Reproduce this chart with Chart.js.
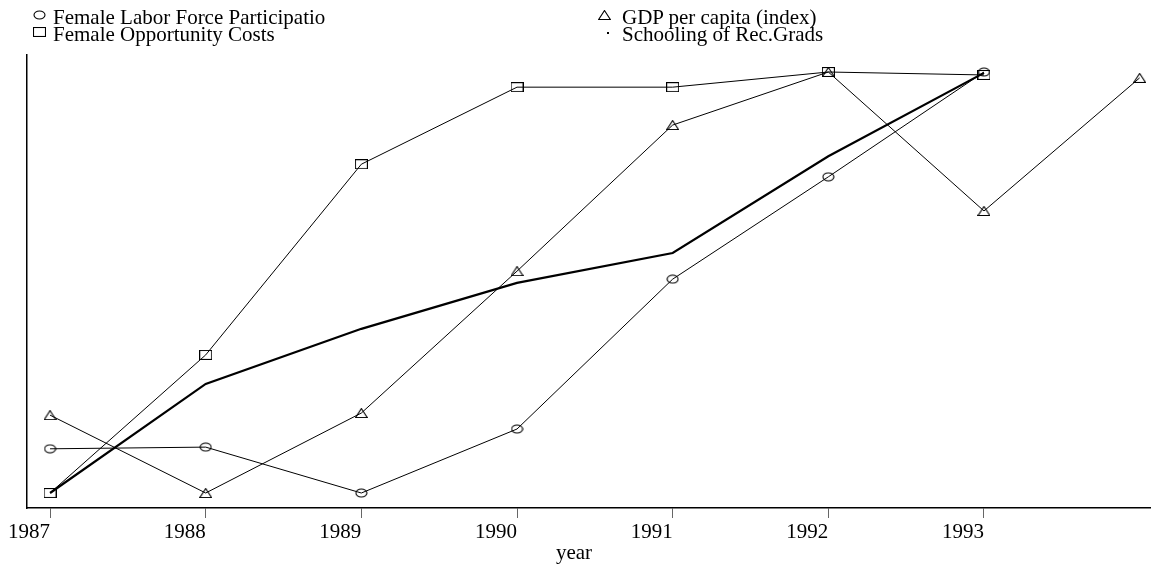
<!DOCTYPE html>
<html><head><meta charset="utf-8">
<script src="https://cdn.jsdelivr.net/npm/chart.js@4/dist/chart.umd.min.js"></script>
<style>
html,body{margin:0;padding:0;background:#fff;}
#wrap{position:relative;width:1151px;height:564px;overflow:hidden;}
#c{position:absolute;left:0;top:0;}
.lgm{position:absolute;}
.lgt{position:absolute;font-family:"Liberation Serif","Times New Roman",serif;font-size:21px;line-height:20px;color:#000;white-space:nowrap;}
#xt{position:absolute;left:474px;width:200px;top:542px;text-align:center;font-family:"Liberation Serif","Times New Roman",serif;font-size:21px;line-height:20px;color:#000;}
</style>
</head>
<body>
<div id="wrap"><canvas id="c" width="1151" height="564"></canvas><div id="xt"></div></div>
<script>
// ---- data ----
const years = [1987, 1988, 1989, 1990, 1991, 1992, 1993];
const gdpYears = [1987, 1988, 1989, 1990, 1991, 1992, 1993, 1994];
const tickYears = [1987, 1988, 1989, 1990, 1991, 1992, 1993];
const tickLabels = ['1987', '1988', '1989', '1990', '1991', '1992', '1993'];
const seriesNames = ['Female Labor Force Participatio', 'Female Opportunity Costs', 'GDP per capita (index)', 'Schooling of Rec.Grads'];
const femaleLFP = [10.5, 10.9, 0.0, 15.2, 50.8, 75.1, 100.0];
const femaleOppCost = [0.0, 32.8, 78.1, 96.4, 96.4, 100.0, 99.3];
const gdpIndex = [18.5, 0.0, 19.0, 52.7, 87.4, 100.0, 67.0, 98.6];
const schooling = [0.0, 25.9, 39.0, 49.9, 57.0, 80.0, 99.8];
const xTitle = 'year';

// ---- markers ----
function marker(shape) {
  const c = document.createElement('canvas');
  c.width = 13; c.height = 10;
  const g = c.getContext('2d');
  g.strokeStyle = '#000'; g.fillStyle = '#000'; g.lineWidth = 1.1;
  g.beginPath();
  if (shape === 'circle') { g.ellipse(6.5, 5, 5.5, 4, 0, 0, Math.PI * 2); g.stroke(); }
  else if (shape === 'rect') { g.strokeRect(0.5, 0.5, 12, 9); }
  else if (shape === 'tri') { g.moveTo(6.5, 0.5); g.lineTo(12.3, 9.5); g.lineTo(0.7, 9.5); g.closePath(); g.stroke(); }
  else if (shape === 'dot') { g.fillRect(6, 4, 2, 2); }
  return c;
}
const mCircle = marker('circle'), mRect = marker('rect'), mTri = marker('tri'), mDot = marker('dot');

const pts = (xs, ys) => ys.map((v, i) => ({ x: xs[i], y: v }));
const FONT = '"Liberation Serif","Times New Roman",serif';

new Chart(document.getElementById('c'), {
  type: 'line',
  data: {
    datasets: [
      { label: seriesNames[0], data: pts(years, femaleLFP), borderColor: '#000', borderWidth: 1, pointStyle: mCircle, pointRadius: 5, tension: 0 },
      { label: seriesNames[1], data: pts(years, femaleOppCost), borderColor: '#000', borderWidth: 1, pointStyle: mRect, pointRadius: 5, tension: 0 },
      { label: seriesNames[2], data: pts(gdpYears, gdpIndex), borderColor: '#000', borderWidth: 1, pointStyle: mTri, pointRadius: 5, tension: 0 },
      { label: seriesNames[3], data: pts(years, schooling), borderColor: '#000', borderWidth: 2.2, pointRadius: 0, tension: 0 }
    ]
  },
  options: {
    responsive: false, animation: false,
    layout: { autoPadding: false, padding: { left: 27, top: 55, right: 0, bottom: 0 } },
    plugins: { legend: { display: false }, tooltip: { enabled: false } },
    scales: {
      x: {
        type: 'linear', min: 1986.852, max: 1994.073,
        afterBuildTicks: s => { s.ticks = tickYears.map(v => ({ value: v })); },
        afterFit: s => { s.paddingLeft = 0; s.paddingRight = 0; s.height = 56; },
        ticks: { align: 'end', color: '#000', font: { family: FONT, size: 21, lineHeight: 1 }, padding: 4, maxRotation: 0, autoSkip: false,
          callback: (v, i) => tickLabels[i] },
        grid: { display: true, drawOnChartArea: false, drawTicks: true, tickLength: 10, color: '#666', lineWidth: 1 },
        border: { display: true, color: '#000', width: 1.5 },
        title: { display: false }
      },
      y: {
        min: -3.56, max: 104.04,
        afterFit: s => { s.width = 0; },
        ticks: { display: false },
        grid: { display: false },
        border: { display: true, color: '#000', width: 1.5 }
      }
    }
  }
});

document.getElementById('xt').textContent = xTitle;

// ---- legend (HTML) ----
const wrap = document.getElementById('wrap');
const legendItems = [
  { m: mCircle, mx: 33, my: 10, tx: 53, ty: 7 },
  { m: mRect, mx: 33, my: 27, tx: 53, ty: 24 },
  { m: mTri, mx: 598, my: 10, tx: 622, ty: 7 },
  { m: mDot, mx: 601, my: 28, tx: 622, ty: 24 }
];
legendItems.forEach((it, i) => {
  const mc = document.createElement('canvas');
  mc.width = 13; mc.height = 10; mc.className = 'lgm';
  mc.style.left = it.mx + 'px'; mc.style.top = it.my + 'px';
  mc.getContext('2d').drawImage(it.m, 0, 0);
  wrap.appendChild(mc);
  const t = document.createElement('div');
  t.className = 'lgt'; t.textContent = seriesNames[i];
  t.style.left = it.tx + 'px'; t.style.top = it.ty + 'px';
  wrap.appendChild(t);
});
</script>
</body></html>
